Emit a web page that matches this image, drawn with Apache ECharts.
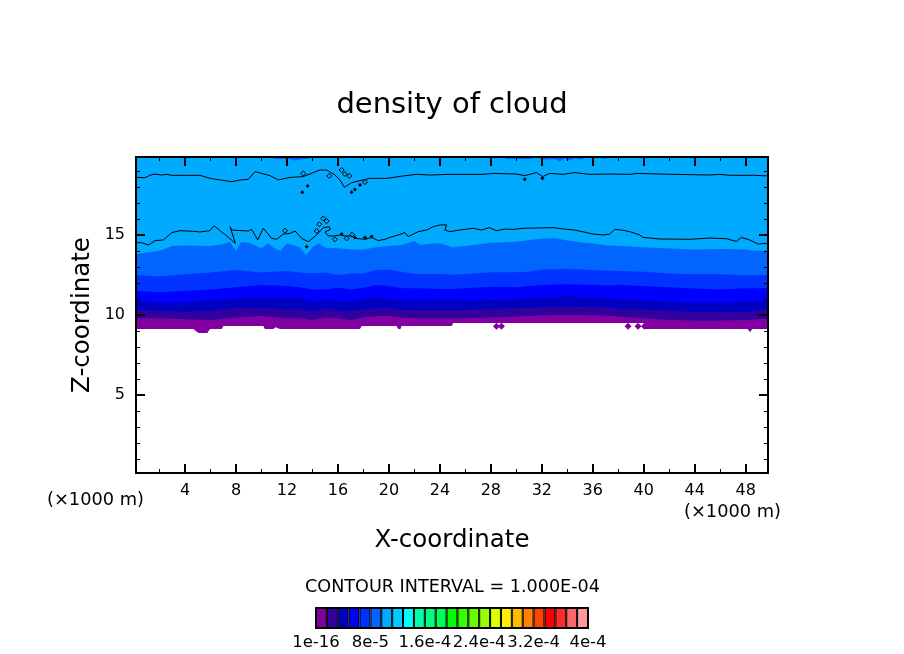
<!DOCTYPE html>
<html>
<head>
<meta charset="utf-8">
<style>
  html, body { margin: 0; padding: 0; background: #fff; }
  #chart { width: 904px; height: 654px; }
</style>
<script src="https://cdn.jsdelivr.net/npm/echarts@6/dist/echarts.min.js"></script>
</head>
<body>
<div id="chart"></div>
<script>
// shared x positions for the lower cloud bands (x 1000 m)
const bandX = [0.15, 2, 4, 6, 8, 10, 12, 13, 14, 15, 16, 17, 18, 19, 20, 21, 22, 23, 24, 25, 26, 28, 30, 31, 32, 34, 36, 37, 38, 40, 42, 44, 46, 48, 49.75];

// top edge of each colour band (z, x 1000 m)
const edge0033ff = [12.5, 12.4, 12.54, 12.65, 12.81, 12.65, 12.75, 12.65, 12.6, 12.65, 12.5, 12.6, 12.6, 12.81, 12.85, 12.71, 12.56, 12.56, 12.56, 12.52, 12.56, 12.67, 12.67, 12.71, 12.85, 12.88, 12.81, 12.77, 12.77, 12.71, 12.6, 12.54, 12.54, 12.48, 12.5];
const edge0000ff = [11.52, 11.42, 11.5, 11.6, 11.73, 11.87, 11.81, 11.73, 11.6, 11.6, 11.71, 11.6, 11.71, 11.87, 11.81, 11.67, 11.67, 11.65, 11.63, 11.63, 11.67, 11.77, 11.73, 11.81, 11.87, 11.92, 11.87, 11.85, 11.87, 11.81, 11.73, 11.65, 11.6, 11.67, 11.67];
const edge0000c0 = [10.9, 10.77, 10.77, 10.94, 11.02, 11.1, 11.1, 11.04, 10.83, 10.94, 10.83, 10.83, 10.98, 11.1, 10.98, 10.9, 10.9, 10.9, 10.9, 10.9, 10.9, 10.94, 10.98, 11.1, 11.1, 11.15, 11.1, 11.06, 10.98, 10.94, 10.83, 10.77, 10.77, 10.83, 10.9];
const edge3300a0 = [10.31, 10.27, 10.21, 10.27, 10.42, 10.42, 10.35, 10.35, 10.21, 10.38, 10.27, 10.27, 10.35, 10.42, 10.42, 10.31, 10.31, 10.31, 10.31, 10.31, 10.31, 10.38, 10.42, 10.44, 10.48, 10.52, 10.48, 10.48, 10.38, 10.35, 10.27, 10.19, 10.15, 10.19, 10.38];
const edge8000a0 = [9.79, 9.79, 9.73, 9.69, 9.85, 9.94, 9.79, 9.79, 9.69, 9.85, 9.79, 9.69, 9.85, 9.94, 9.94, 9.85, 9.79, 9.79, 9.79, 9.79, 9.79, 9.85, 9.9, 9.94, 9.98, 10, 9.98, 9.96, 9.9, 9.79, 9.69, 9.65, 9.65, 9.69, 9.77];

// this edge is more ragged so it has its own [x, z] pairs
const edge0066ff = [[0.15, 13.79], [1, 13.9], [2, 14.02], [3, 14.31], [4, 14.35], [5, 14.33], [6, 14.31], [7, 14.44], [7.5, 14.58], [8, 14.02], [8.4, 14.56], [9, 14.52], [10, 14.17], [10.5, 14.48], [11, 14.17], [11.5, 14.02], [12, 14.48], [13, 14.23], [13.5, 13.75], [14, 14.23], [14.5, 14.48], [15, 14.21], [16, 14.17], [17, 14.1], [18, 14.1], [19, 14.23], [20, 14.31], [21, 14.37], [22, 14.62], [22.5, 14.37], [23, 14.44], [24, 14.48], [25, 14.23], [26, 14.31], [27, 14.4], [28, 14.52], [30, 14.58], [31, 14.69], [32, 14.77], [33, 14.79], [34, 14.65], [35, 14.54], [36, 14.48], [37, 14.35], [38, 14.33], [40, 14.23], [42, 14.15], [44, 14.1], [46, 14.12], [48, 14.1], [48.6, 14.02], [49.75, 14.02]];

// lower edge of the cloud, white below it
const cloudBase = [[0.15, 9.12], [4.65, 9.12], [5.05, 8.88], [5.75, 8.88], [5.96, 9.12], [6.88, 9.12], [7.01, 9.31], [10.14, 9.31], [10.27, 9.12], [10.93, 9.12], [11.09, 9.23], [11.24, 9.12], [11.45, 9.12], [11.58, 9.23], [11.76, 9.12], [14.98, 9.12], [15.06, 9.23], [15.16, 9.12], [17.73, 9.12], [17.86, 9.31], [20.6, 9.31], [20.72, 9.12], [20.91, 9.12], [20.99, 9.31], [24.92, 9.31], [25.05, 9.5], [40, 9.5], [40.1, 9.12], [48.15, 9.12], [48.35, 8.92], [48.5, 9.12], [49.75, 9.12]];
const cloudSpecks = [[28.44, 9.29], [28.83, 9.29], [38.77, 9.29], [39.55, 9.29], [40.05, 9.29]];

// patches of the next colour hanging from the top of the plot
const topPatches = [[0.15, 19.875], [10.7, 19.875], [11, 19.75], [12.2, 19.75], [12.5, 19.65], [13.5, 19.75], [14, 19.875], [29, 19.875], [29.2, 19.75], [31.2, 19.75], [31.4, 19.875], [31.8, 19.875], [32, 19.7], [33, 19.75], [33.4, 19.6], [33.8, 19.8], [34.2, 19.65], [34.6, 19.8], [35, 19.7], [35.8, 19.875], [36.5, 19.875], [36.8, 19.75], [37.5, 19.875], [49.75, 19.875]];

// black contours
const contourUpper = [[0.15, 18.6], [0.86, 18.58], [1.25, 18.73], [1.57, 18.81], [2.17, 18.75], [2.56, 18.79], [2.95, 18.73], [4.26, 18.73], [5.18, 18.73], [5.96, 18.54], [6.75, 18.44], [7.66, 18.33], [8.31, 18.44], [8.97, 18.48], [9.49, 18.96], [10.01, 18.85], [10.67, 18.71], [11.32, 18.44], [12.24, 18.6], [13.28, 18.65], [14.07, 18.9], [14.59, 19.06], [15.11, 19.06], [15.77, 18.75], [16.16, 18.44], [16.5, 17.98], [17.07, 18.27], [17.73, 18.4], [18.51, 18.54], [19.82, 18.54], [21.12, 18.69], [22.17, 18.79], [23.22, 18.75], [24.78, 18.79], [27.39, 18.79], [28.18, 18.85], [30, 18.81], [30.66, 18.71], [31.58, 18.9], [32.05, 18.65], [32.62, 18.85], [33.67, 18.79], [34.58, 18.9], [35.76, 18.79], [37.33, 18.81], [38.9, 18.79], [39.42, 18.85], [42.3, 18.79], [45.17, 18.75], [45.96, 18.79], [46.74, 18.73], [48.7, 18.73], [49.75, 18.69]];
const contourLower = [[0.15, 14.52], [0.6, 14.52], [1.12, 14.37], [1.65, 14.65], [2.3, 14.69], [2.95, 15.15], [3.61, 15.27], [4.65, 15.23], [5.18, 15.19], [5.96, 15.27], [6.27, 15.58], [6.75, 15.27], [7.4, 14.85], [7.95, 14.48], [7.53, 15.52], [7.66, 15.31], [8.97, 15.25], [9.23, 15.35], [9.7, 14.69], [10.14, 15.42], [10.8, 14.79], [11.19, 14.73], [11.71, 15.06], [12.24, 15.1], [12.63, 15.25], [13.15, 14.79], [13.67, 14.58], [14.33, 15], [14.85, 15.46], [15.32, 15.52], [15.4, 15.35], [14.98, 15.19], [15.25, 14.94], [15.63, 14.94], [16.16, 15], [16.55, 14.94], [17.07, 14.94], [17.33, 14.79], [18.12, 14.73], [18.64, 14.85], [19.16, 14.65], [19.69, 14.73], [20.08, 14.85], [20.73, 15], [21.25, 15.15], [21.52, 14.9], [22.3, 15.21], [22.95, 15.31], [23.48, 15.52], [24, 15.63], [24.52, 15.63], [24.39, 15.31], [24.78, 15.21], [25.56, 15.31], [26.61, 15.42], [27.26, 15.31], [27.87, 15.46], [28.44, 15.27], [29.09, 15.37], [29.75, 15.35], [30.53, 15.42], [32.88, 15.46], [33.8, 15.37], [34.58, 15.31], [36.02, 15.06], [36.81, 15], [37.33, 15.06], [37.72, 15.35], [38.25, 15.31], [38.9, 15.21], [39.68, 15], [39.94, 14.85], [41.25, 14.75], [43.6, 14.73], [45.17, 14.81], [46.48, 14.77], [47.26, 14.6], [47.66, 14.85], [48.31, 14.69], [48.96, 14.44], [49.75, 14.48]];
const contourRings = [[13.28, 18.85], [15.32, 18.69], [16.29, 19.06], [16.89, 18.69], [16.55, 18.81], [18.12, 18.31], [14.85, 16.04], [15.11, 15.87], [14.54, 15.67], [14.33, 15.25], [15.76, 14.73], [16.68, 14.79], [17.1, 15.02], [11.84, 15.27]];
const contourDots = [[13.2, 17.67], [13.62, 18.06], [17.33, 17.85], [17.73, 18.13], [17.07, 17.67], [13.54, 14.27], [16.29, 15.06], [17.33, 14.85], [18.12, 14.85], [18.64, 14.9], [30.66, 18.48], [32.05, 18.54]];

// axes
const xMajor = [4, 8, 12, 16, 20, 24, 28, 32, 36, 40, 44, 48];
const xMinor = [2, 6, 10, 14, 18, 22, 26, 30, 34, 38, 42, 46];
const zMajor = [5, 10, 15];
const zMinor = [1, 2, 3, 4, 6, 7, 8, 9, 11, 12, 13, 14, 16, 17, 18, 19];

// colour bar
const barColors = ["#8000a0", "#3300a0", "#0000c0", "#0000ff", "#0033ff", "#0066ff", "#00aaff", "#00ccff", "#00ffff", "#00ffaa", "#00ff80", "#00ff55", "#00ff00", "#33ff00", "#66ff00", "#99ff00", "#ddff00", "#ffee00", "#ffbb00", "#ff8000", "#ff4400", "#ff0000", "#ff2a2a", "#ff6666", "#ff9999"];
const barTicks = [0, 5, 10, 15, 20, 25];
const barLabels = ["1e-16", "8e-5", "1.6e-4", "2.4e-4", "3.2e-4", "4e-4"];

const font = "DejaVu Sans";
const xMin = 0.15, xMax = 49.75, zMin = 0.125, zMax = 19.875;

function withX(values) {
  return values.map((v, i) => [bandX[i], v]);
}

// one axis per side for major ticks and one for minor ticks
function plotAxis(position, min, max, ticks, len, width, labels, name, gap, margin) {
  return {
    type: "value",
    gridIndex: 0,
    position: position,
    min: min,
    max: max,
    z: 10,
    name: name || "",
    nameLocation: "middle",
    nameGap: gap || 0,
    nameMoveOverlap: false,
    nameTextStyle: { color: "#000", fontFamily: font, fontSize: 24.5 },
    splitLine: { show: false },
    axisLine: { show: true, onZero: false, lineStyle: { color: "#000", width: 2 } },
    axisTick: { show: true, inside: true, length: len, customValues: ticks, lineStyle: { color: "#000", width: width } },
    axisLabel: labels
      ? { show: true, customValues: ticks, color: "#000", fontFamily: font, fontSize: 16, margin: margin, hideOverlap: false }
      : { show: false },
  };
}

function band(data, color, origin) {
  return {
    type: "line",
    data: data,
    xAxisIndex: 0,
    yAxisIndex: 0,
    symbol: "none",
    silent: true,
    lineStyle: { width: 0 },
    areaStyle: { color: color, opacity: 1, origin: origin || "start" },
  };
}

function contour(data) {
  return {
    type: "line",
    data: data,
    xAxisIndex: 0,
    yAxisIndex: 0,
    symbol: "none",
    silent: true,
    z: 4,
    lineStyle: { color: "#000", width: 1 },
  };
}

function specks(data, symbolSize, style) {
  return {
    type: "scatter",
    data: data,
    xAxisIndex: 0,
    yAxisIndex: 0,
    symbol: "diamond",
    symbolSize: symbolSize,
    silent: true,
    z: 5,
    itemStyle: Object.assign({ opacity: 1 }, style),
  };
}

const chart = echarts.init(document.getElementById("chart"));

chart.setOption({
  animation: false,
  backgroundColor: "#fff",
  title: {
    text: "density of cloud",
    left: 452,
    top: 91,
    padding: 0,
    textAlign: "center",
    textStyle: { color: "#000", fontFamily: font, fontSize: 29, fontWeight: "normal" },
  },
  graphic: [
    { type: "text", left: 47, top: 491, style: { text: "(×1000 m)", fill: "#000", font: "17.8px " + font } },
    { type: "text", left: 684, top: 503, style: { text: "(×1000 m)", fill: "#000", font: "17.8px " + font } },
    { type: "text", left: 305, top: 578, style: { text: "CONTOUR INTERVAL = 1.000E-04", fill: "#000", font: "17.6px " + font } },
  ],
  grid: [
    { left: 136, top: 157, width: 632, height: 316, show: true, backgroundColor: "#00aaff", borderWidth: 0 },
    { left: 316, top: 608, width: 272, height: 20, show: true, borderColor: "#000", borderWidth: 2 },
  ],
  xAxis: [
    plotAxis("bottom", xMin, xMax, xMajor, 9, 2, true, "X-coordinate", 55, 10),
    plotAxis("bottom", xMin, xMax, xMinor, 4, 1),
    plotAxis("top", xMin, xMax, xMajor, 9, 2),
    plotAxis("top", xMin, xMax, xMinor, 4, 1),
    {
      type: "value",
      gridIndex: 1,
      min: 0,
      max: 25,
      splitLine: { show: false },
      axisLine: { show: false },
      axisTick: { show: false },
      axisLabel: {
        customValues: barTicks,
        color: "#000",
        fontFamily: font,
        fontSize: 16.5,
        margin: 6,
        hideOverlap: false,
        formatter: (v) => barLabels[barTicks.indexOf(v)],
      },
    },
  ],
  yAxis: [
    plotAxis("left", zMin, zMax, zMajor, 9, 2, true, "Z-coordinate", 41, 11),
    plotAxis("left", zMin, zMax, zMinor, 4, 1),
    plotAxis("right", zMin, zMax, zMajor, 9, 2),
    plotAxis("right", zMin, zMax, zMinor, 4, 1),
    { type: "value", gridIndex: 1, min: 0, max: 1, show: false },
  ],
  series: [
    band(topPatches, "#0066ff", "end"),
    band(edge0066ff, "#0066ff"),
    band(withX(edge0033ff), "#0033ff"),
    band(withX(edge0000ff), "#0000ff"),
    band(withX(edge0000c0), "#0000c0"),
    band(withX(edge3300a0), "#3300a0"),
    band(withX(edge8000a0), "#8000a0"),
    band(cloudBase, "#ffffff"),
    specks(cloudSpecks, 7, { color: "#8000a0" }),
    contour(contourUpper),
    contour(contourLower),
    specks(contourRings, 5, { color: "transparent", borderColor: "#000", borderWidth: 1 }),
    specks(contourDots, 4, { color: "#000" }),
    {
      type: "bar",
      xAxisIndex: 4,
      yAxisIndex: 4,
      silent: true,
      barWidth: 10.88,
      data: barColors.map((c, i) => ({
        value: [i + 0.5, 1],
        itemStyle: { color: c, borderColor: "#000", borderWidth: 1 },
      })),
    },
  ],
});
</script>
</body>
</html>
